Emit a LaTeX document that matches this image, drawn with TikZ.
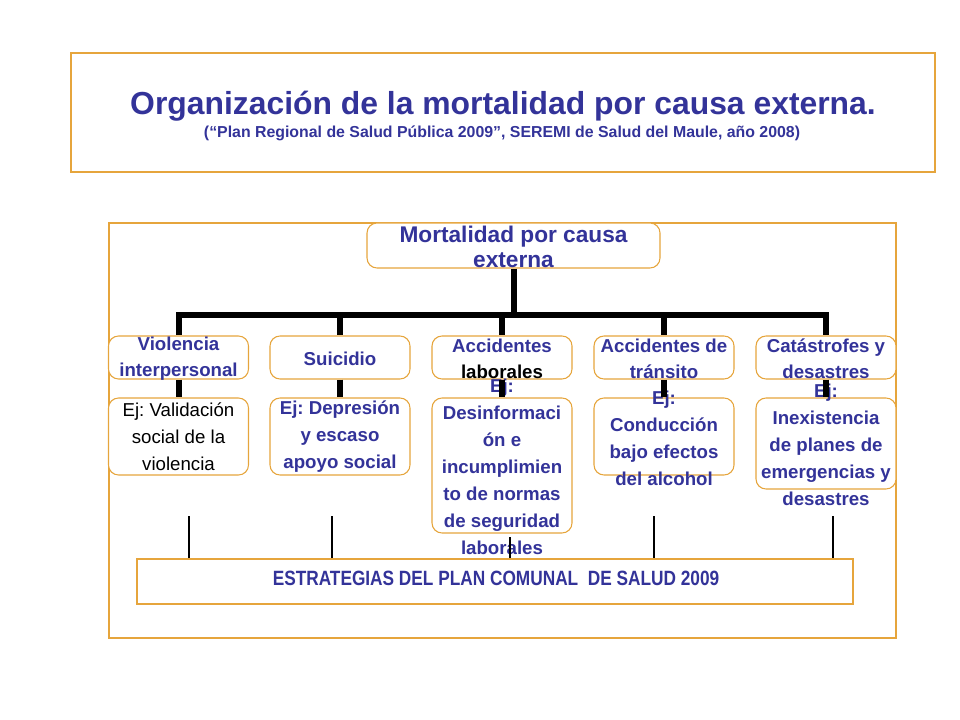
\documentclass[tikz,border=0pt]{standalone}
\usepackage{fontspec}
\setmainfont{Liberation Sans}
\newfontfamily\narrowfont[FakeStretch=0.835]{Liberation Sans}
\definecolor{tblue}{RGB}{51,51,153}
\definecolor{borange}{RGB}{230,165,60}
\frenchspacing
\begin{document}
\begin{tikzpicture}[x=0.75pt,y=-0.75pt,
  frame/.style={draw=borange, line width=0.8pt},
  rbox/.style={draw=borange, line width=0.8pt, rounded corners=7.5pt, fill=white, inner sep=0pt, minimum width=105pt},
  lvtwo/.style={rbox, minimum height=32.25pt},
  lvthree/.style={rbox, minimum height=57.75pt},
  txt/.style={align=center, inner sep=0pt, text=tblue, font=\fontsize{14pt}{19.5pt}\selectfont\bfseries},
  txtthree/.style={align=center, inner sep=0pt, text=tblue, font=\fontsize{14pt}{20.25pt}\selectfont\bfseries},
  conn/.style={line width=4.5pt, black, line join=miter},
  thinconn/.style={line width=1.1pt, black}
]
\useasboundingbox (0,0) rectangle (960,720);
% title
\node[frame, minimum width=648pt, minimum height=89.25pt, inner sep=0pt] (titlebox) at (503,112.5) {};
\node[anchor=base, inner sep=0pt, text=tblue, font=\fontsize{23.9pt}{26pt}\selectfont\bfseries] (title) at (503,114.5) {Organización de la mortalidad por causa externa.};
\node[anchor=base, inner sep=0pt, text=tblue, font=\fontsize{11.9pt}{14pt}\selectfont\bfseries] (subtitle) at (502,138) {(“Plan Regional de Salud Pública 2009”, SEREMI de Salud del Maule, año 2008)};
% outer frame
\node[frame, minimum width=590.25pt, minimum height=311.25pt, inner sep=0pt] (outer) at (502.5,430.5) {};
% top node
\node[rbox, minimum width=219.75pt, minimum height=33.75pt] (top) at (513.5,245.5) {};
\node[txt, font=\fontsize{17pt}{18.75pt}\selectfont\bfseries] (top-t) at (513.5,247) {Mortalidad por causa\\externa};
% level 2
\node[lvtwo] (v) at (178.5,357.5) {};
\node[lvtwo] (s) at (340,357.5) {};
\node[lvtwo] (l) at (502,357.5) {};
\node[lvtwo] (t) at (664,357.5) {};
\node[lvtwo] (c) at (826,357.5) {};
\node[txt] (v-t) at (178.5,359) {Violencia\\interpersonal};
\node[txt] (s-t) at (340,359) {Suicidio};
\node[txt] (l-t) at (502,359) {Accidentes\\\textcolor{black}{laborales}};
\node[txt] (t-t) at (664,359) {Accidentes de\\tránsito};
\node[txt] (c-t) at (826,359) {Catástrofes y\\desastres};
% level 3
\node[lvthree] (ve) at (178.5,436.5) {};
\node[lvthree] (se) at (340,436.5) {};
\node[rbox, minimum height=101.25pt] (le) at (502,465.5) {};
\node[lvthree] (te) at (664,436.5) {};
\node[rbox, minimum height=68.25pt] (ce) at (826,443.5) {};
\node[txtthree, text=black, font=\fontsize{14pt}{20.25pt}\selectfont] (ve-t) at (178.5,437) {Ej: Validación\\social de la\\violencia};
\node[txtthree] (se-t) at (340,437) {Ej: Depresión\\y escaso\\apoyo social};
\node[txtthree] (le-t) at (502,467) {Ej:\\Desinformaci\\ón e\\incumplimien\\to de normas\\de seguridad\\laborales};
\node[txtthree] (te-t) at (664,438.5) {Ej:\\Conducción\\bajo efectos\\del alcohol};
\node[txtthree] (ce-t) at (826,445) {Ej:\\Inexistencia\\de planes de\\emergencias y\\desastres};
% bottom box
\node[frame, minimum width=537pt, minimum height=33.75pt, inner sep=0pt] (est) at (495,581.5) {};
\node[anchor=base, inner sep=0pt, text=tblue, font=\narrowfont\fontsize{15.5pt}{18pt}\selectfont\bfseries] (est-t) at (496,585.5) {ESTRATEGIAS DEL PLAN COMUNAL \ DE SALUD 2009};
% thick connectors
\coordinate (bus) at (513.5,315);
\draw[conn] (top.south) -- (bus);
\foreach \n in {v,s,l,t,c} \draw[conn] (bus) -| (\n.north);
\draw[conn] (v.south) -- (ve.north);
\draw[conn] (s.south) -- (se.north);
\draw[conn] (l.south) -- (le.north);
\draw[conn] (t.south) -- (te.north);
\draw[conn] (c.south) -- (ce.north);
% thin connectors
\coordinate (p1) at (189,516);
\coordinate (p2) at (332,516);
\coordinate (p3) at (510,537);
\coordinate (p4) at (654,516);
\coordinate (p5) at (833,516);
\foreach \p in {p1,p2,p3,p4,p5} \draw[thinconn] (\p) -- (\p |- est.north);
\end{tikzpicture}
\end{document}
